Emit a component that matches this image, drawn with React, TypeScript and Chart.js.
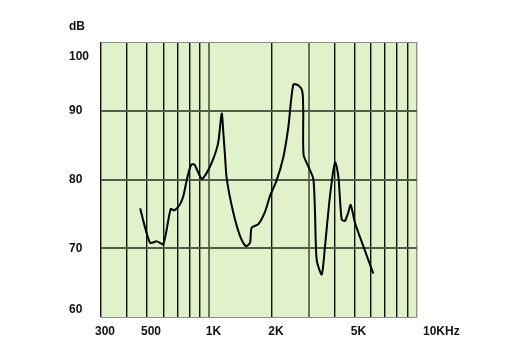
import React, { useEffect, useRef } from "react";
import { Chart, registerables } from "chart.js";

Chart.register(...registerables);

// Frequency (Hz) and level (dB)
const freqs = [463, 517, 557, 599, 650, 677, 721, 748, 782, 815, 845, 917, 971, 1043, 1102, 1145, 1166, 1188, 1211, 1302, 1403, 1499, 1568, 1597, 1719, 1851, 1957, 2108, 2267, 2398, 2534, 2678, 2801, 2830, 2840, 2993, 3164, 3224, 3286, 3474, 3603, 3808, 4026, 4176, 4335, 4498, 4664, 4791, 5025, 5511, 6158];
const levels = [75.8, 70.8, 71.0, 70.6, 75.7, 75.5, 76.4, 77.6, 80.3, 82.1, 82.2, 80.1, 81.0, 83.0, 85.4, 89.6, 86.8, 83.4, 80.1, 75.2, 71.8, 70.3, 70.8, 73.0, 73.5, 75.3, 77.6, 79.9, 83.2, 87.6, 93.8, 93.7, 92.8, 89.9, 83.6, 81.9, 80.1, 75.2, 68.3, 66.2, 70.3, 77.6, 82.5, 80.5, 74.2, 74.0, 75.2, 76.3, 73.7, 70.3, 66.3];

// Axis ticks
const xGridTicks = [300, 400, 500, 600, 700, 800, 900, 1000, 2000, 3000, 4000, 5000, 6000, 7000, 8000, 9000, 10000];
const xLabelTicks = [300, 500, 1000, 2000, 5000, 10000];
const xLabelTexts = ["300", "500", "1K", "2K", "5K", "10KHz"];
const yTicks = [60, 70, 80, 90, 100];
const yUnit = "dB";

const FONT = "bold 12px 'Liberation Sans', Arial, sans-serif";

export default function App() {
  const ref = useRef<HTMLCanvasElement | null>(null);

  useEffect(() => {
    if (!ref.current) return;
    const bgPlugin = {
      id: "bg",
      beforeDraw(chart: any) {
        const { ctx, chartArea: a } = chart;
        ctx.save();
        ctx.fillStyle = "#e1f1ca";
        ctx.fillRect(a.left, a.top, a.right - a.left, a.bottom - a.top);
        ctx.restore();
      },
    };
    const labelPlugin = {
      id: "labels",
      afterDraw(chart: any) {
        const { ctx, chartArea: a } = chart;
        const xs = chart.scales.x;
        const ys = chart.scales.y;
        ctx.save();
        ctx.font = FONT;
        ctx.fillStyle = "#111";
        ctx.textBaseline = "middle";
        ctx.textAlign = "left";
        yTicks.forEach((v) => {
          let py = ys.getPixelForValue(v);
          py = Math.max(a.top + 15, Math.min(a.bottom - 7, py));
          ctx.fillText(String(v), a.left - 32, py);
        });
        ctx.fillText(yUnit, a.left - 32, a.top - 15);
        xLabelTicks.forEach((v, i) => {
          const px = xs.getPixelForValue(v);
          if (i === xLabelTicks.length - 1) {
            ctx.textAlign = "left";
            ctx.fillText(xLabelTexts[i], px + 6, a.bottom + 15);
          } else {
            ctx.textAlign = "center";
            ctx.fillText(xLabelTexts[i], px + 4, a.bottom + 15);
          }
        });
        ctx.restore();
      },
    };

    const chart = new Chart(ref.current, {
      type: "line",
      data: {
        datasets: [
          {
            data: freqs.map((f, i) => ({ x: f, y: levels[i] })),
            borderColor: "#000",
            borderWidth: 2,
            pointRadius: 0,
            tension: 0.25,
            fill: false,
          },
        ],
      },
      options: {
        animation: false,
        responsive: false,
        maintainAspectRatio: false,
        layout: { padding: { left: 101, top: 42, right: 91, bottom: 46 } },
        plugins: { legend: { display: false }, tooltip: { enabled: false } },
        scales: {
          x: {
            type: "logarithmic",
            min: 300,
            max: 10000,
            afterBuildTicks: (s: any) => {
              s.ticks = xGridTicks.map((v) => ({ value: v }));
            },
            ticks: { display: false },
            border: { display: false },
            grid: {
              drawTicks: false,
              color: (c: any) => {
                const v = c.tick?.value;
                if (v === 10000) return "#8e8e8e";
                if (v === 1000 || v === 3000) return "#66755a";
                return "#111";
              },
              lineWidth: (c: any) => {
                const v = c.tick?.value;
                if (v === 1000 || v === 3000) return 2;
                return 1.4;
              },
            },
          },
          y: {
            type: "linear",
            min: 60,
            max: 100,
            afterBuildTicks: (s: any) => {
              s.ticks = yTicks.map((v) => ({ value: v }));
            },
            ticks: { display: false },
            border: { display: false },
            grid: {
              drawTicks: false,
              color: (c: any) => {
                const v = c.tick?.value;
                if (v === 60 || v === 100) return "#8e8e8e";
                return "#4e5d45";
              },
              lineWidth: (c: any) => {
                const v = c.tick?.value;
                if (v === 60 || v === 100) return 1;
                return 2;
              },
            },
          },
        },
      },
      plugins: [bgPlugin, labelPlugin],
    });
    return () => chart.destroy();
  }, []);

  return (
    <div style={{ position: "fixed", left: 0, top: 0, width: 508, height: 363, background: "#fff" }}>
      <canvas ref={ref} width={508} height={363} style={{ width: 508, height: 363, display: "block" }} />
    </div>
  );
}
